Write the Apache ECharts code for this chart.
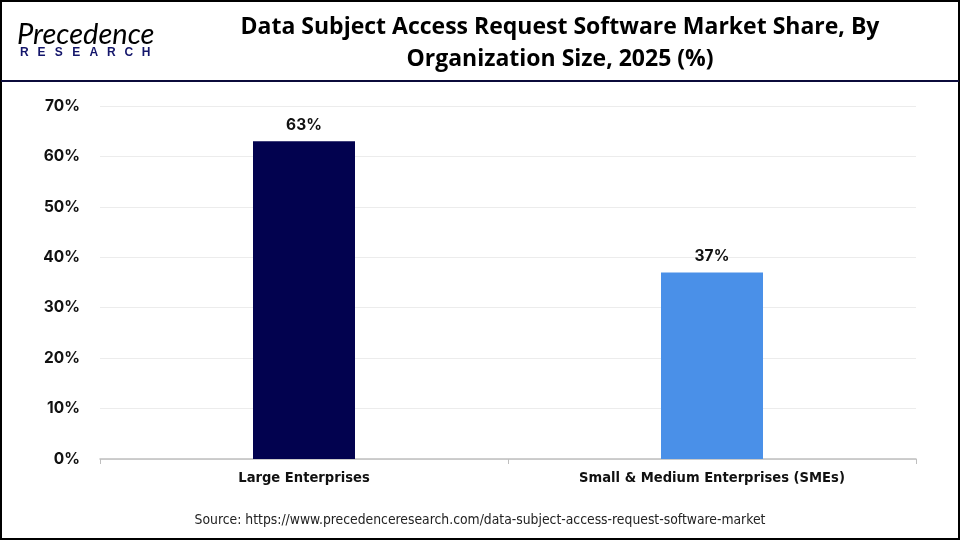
<!DOCTYPE html>
<html>
<head>
<meta charset="utf-8">
<script src="https://cdn.jsdelivr.net/npm/echarts@6/dist/echarts.min.js"></script>
<style>
html,body{margin:0;padding:0;background:#fff;}
#chart{width:960px;height:540px;}
</style>
</head>
<body>
<div id="chart"></div>
<script>
const categories = ['Large Enterprises', 'Small & Medium Enterprises (SMEs)'];
const shareValues = [63, 37];
const barColors = ['#02024f', '#4a90e8'];
const yTickValues = [0, 10, 20, 30, 40, 50, 60, 70];
const titleLines = ['Data Subject Access Request Software Market Share, By', 'Organization Size, 2025 (%)'];
const sourceText = 'Source: https://www.precedenceresearch.com/data-subject-access-request-software-market';
const logoSub = 'RESEARCH';

const chart = echarts.init(document.getElementById('chart'), null, {renderer: 'canvas'});
const logoLetters = logoSub.split('').map((ch, i) => ({
  type: 'text', z: 100,
  style: {text: ch, x: 20 + i * 17.4, y: 47, font: 'bold 12px "Liberation Sans", Arial, sans-serif', fill: '#14166b'}
}));
chart.setOption({
  animation: false,
  backgroundColor: '#fff',
  grid: {left: 100, right: 44, top: 106, bottom: 81, containLabel: false},
  xAxis: {
    type: 'category',
    data: categories,
    axisLine: {show: true, lineStyle: {color: '#bfbfbf', width: 1.5}},
    axisTick: {show: true, alignWithLabel: false, length: 5, lineStyle: {color: '#bfbfbf'}},
    axisLabel: {
      margin: 12,
      color: '#111',
      fontFamily: '"Liberation Sans Narrow", "DejaVu Sans Condensed", "Roboto", sans-serif',
      fontWeight: 'bold',
      fontSize: 14.6
    }
  },
  yAxis: {
    type: 'value',
    min: yTickValues[0],
    max: yTickValues[yTickValues.length - 1],
    interval: 10,
    axisLine: {show: false},
    axisTick: {show: false},
    splitLine: {show: true, lineStyle: {color: '#ececec', width: 1}},
    axisLabel: {
      formatter: '{value}%',
      margin: 20,
      color: '#111',
      fontFamily: 'Inter, "Liberation Sans", Arial, sans-serif',
      fontWeight: 'bold',
      fontSize: 15.5
    }
  },
  series: [{
    type: 'bar',
    barWidth: '25%',
    data: shareValues.map((v, i) => ({value: v, itemStyle: {color: barColors[i]}})),
    label: {
      show: true,
      position: 'top',
      distance: 8,
      formatter: '{c}%',
      color: '#111',
      fontFamily: 'Inter, "Liberation Sans", Arial, sans-serif',
      fontWeight: 'bold',
      fontSize: 15.5
    }
  }],
  graphic: [
    {type: 'rect', shape: {x: 1, y: 1, width: 958, height: 538}, style: {fill: 'none', stroke: '#000', lineWidth: 2}, z: 100},
    {type: 'line', shape: {x1: 1, y1: 81, x2: 959, y2: 81}, style: {stroke: '#0b0b3b', lineWidth: 2}, z: 100},
    {type: 'text', style: {
      text: titleLines.join('\n'), x: 560, y: 11, textAlign: 'center',
      font: 'bold 23px "Open Sans", "Noto Sans", sans-serif', lineHeight: 32, fill: '#000'
    }, z: 100},
    {type: 'text', style: {
      text: 'Precedence', x: 17, y: 20,
      font: 'italic 29px "Lato", "Noto Sans", sans-serif',
      fill: new echarts.graphic.LinearGradient(0, 0, 1, 0, [{offset: 0, color: '#12146a'}, {offset: 1, color: '#3f63d6'}])
    }, z: 100},
    ...logoLetters,
    {type: 'text', style: {
      text: sourceText, x: 480, y: 513, textAlign: 'center',
      font: '13.8px "Liberation Sans Narrow", "DejaVu Sans Condensed", "Roboto", sans-serif', fill: '#222'
    }, z: 100}
  ]
});
</script>
</body>
</html>
